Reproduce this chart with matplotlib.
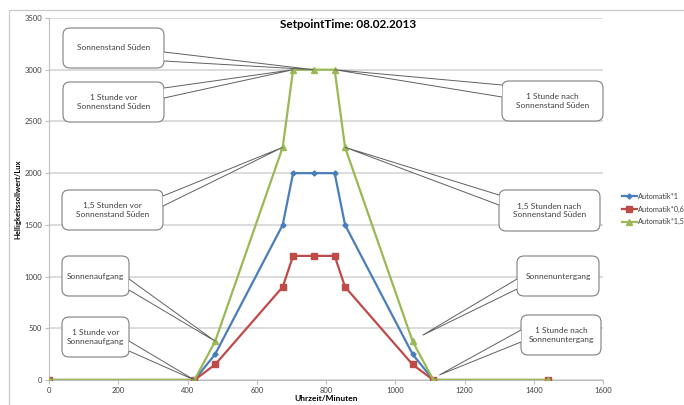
import matplotlib
matplotlib.use("Agg")
import matplotlib.pyplot as plt
from matplotlib.patches import FancyBboxPatch, Polygon, Rectangle
from matplotlib.transforms import IdentityTransform

# Daten: Uhrzeit in Minuten, Helligkeitssollwert in Lux
minuten = [0, 420, 480, 675, 705, 765, 825, 855, 1050, 1110, 1440]
auto_1 = [0, 0, 250, 1500, 2000, 2000, 2000, 1500, 250, 0, 0]
auto_06 = [0, 0, 150, 900, 1200, 1200, 1200, 900, 150, 0, 0]
auto_15 = [0, 0, 375, 2250, 3000, 3000, 3000, 2250, 375, 0, 0]
labels = ['Automatik*1', 'Automatik*0,6', 'Automatik*1,5']

# Callouts: text, index of data point in auto_15
callout_text = ['Sonnenstand Süden', '1 Stunde vor\nSonnenstand Süden', '1 Stunde nach\nSonnenstand Süden',
                '1,5 Stunden vor\nSonnenstand Süden', '1,5 Stunden nach\nSonnenstand Süden',
                'Sonnenaufgang', '1 Stunde vor\nSonnenaufgang', 'Sonnenuntergang',
                '1 Stunde nach\nSonnenuntergang']
callout_idx = [5, 4, 6, 3, 7, 2, 1, 8, 9]

W, H = 684, 405
font = 'Lato'

fig = plt.figure(figsize=(W / 100, H / 100), dpi=100)
ax = fig.add_axes([49 / W, 1 - 380 / H, (603 - 49) / W, (380 - 18) / H])

# outer chart border
fig.add_artist(Rectangle((9 / W, -0.1), 1.2, 1 - 10 / H + 0.1, transform=fig.transFigure,
                         fill=False, edgecolor='#c8c8c8', linewidth=0.9))

ax.plot(minuten, auto_1, color='#4a7ebb', lw=1.6, marker='D', ms=2.6, label=labels[0], zorder=3)
ax.plot(minuten, auto_06, color='#be4b48', lw=1.6, marker='s', ms=4.2, label=labels[1], zorder=3)
ax.plot(minuten, auto_15, color='#98b954', lw=1.6, marker='^', ms=4.0, label=labels[2], zorder=3)

ax.set_xlim(0, 1600)
ax.set_ylim(0, 3500)
ax.set_xticks(range(0, 1601, 200))
ax.set_yticks(range(0, 3501, 500))
ax.yaxis.grid(True, color='#d9d9d9', lw=1.3)
ax.set_axisbelow(True)
for s in ['top', 'right']:
    ax.spines[s].set_visible(False)
ax.spines['left'].set_color('#bfbfbf')
ax.spines['bottom'].set_color('#bfbfbf')
ax.tick_params(axis='both', colors='#bfbfbf', length=3, width=0.8, labelsize=5.5, labelcolor='#404040', pad=2)
for t in ax.get_xticklabels() + ax.get_yticklabels():
    t.set_fontfamily(font)

ax.set_xlabel('Uhrzeit/Minuten', fontsize=6, fontweight='bold', family=font, labelpad=1)
ax.set_ylabel('Helligkeitssollwert/Lux', fontsize=5.5, fontweight='bold', family=font, labelpad=2)
fig.text(348 / W, 1 - 24 / H, 'SetpointTime: 08.02.2013', ha='center', va='center',
         fontsize=8.5, fontweight='bold', family=font)

leg = fig.legend(loc='upper left', bbox_to_anchor=(622 / W, 1 - 193 / H), frameon=False,
                 handlelength=2.0, handletextpad=0.15, labelspacing=0.75,
                 borderpad=0, borderaxespad=0, prop={'family': font, 'size': 5.3})
for t in leg.get_texts():
    t.set_color('#404040')

# callout boxes in image pixels (x0, y0, x1, y1), base of wedge on box edge, tip offset px
boxes = [(63, 28, 164, 68), (63, 82, 164, 122), (502, 81, 603, 121),
         (62, 190, 163, 230), (499, 190, 600, 231),
         (62, 256, 129, 296), (62, 317, 129, 357), (517, 256, 599, 296),
         (521, 315, 601, 355)]
bases = [(164, 52, 61), (164, 88, 98), (502, 85, 97),
         (163, 196, 206), (499, 195, 205),
         (129, 279, 290), (129, 341, 351), (517, 279, 289),
         (521, 330, 342)]
tip_off = [(0, 0), (0, 0), (0, 0), (0, 0), (0, 0), (0, 0), (0, 0), (10, -6), (6, -5)]

fig.canvas.draw()
for txt, i, box, base, off in zip(callout_text, callout_idx, boxes, bases, tip_off):
    x0, y0, x1, y1 = box
    bx, by0, by1 = base
    tx, ty = ax.transData.transform((minuten[i], auto_15[i]))
    tx, ty = tx + off[0], ty - off[1]
    fig.add_artist(FancyBboxPatch((x0, H - y1), x1 - x0, y1 - y0,
                                  boxstyle='round,pad=0,rounding_size=7', transform=IdentityTransform(),
                                  facecolor='white', edgecolor='#7f7f7f', lw=0.8, zorder=5))
    fig.add_artist(Polygon([(bx, H - by0), (tx, ty), (bx, H - by1)], closed=False,
                           transform=IdentityTransform(), facecolor='white', edgecolor='#606060',
                           lw=0.7, zorder=6))
    fig.text((x0 + x1) / 2 / W, 1 - (y0 + y1) / 2 / H, txt, ha='center', va='center',
             fontsize=6, color='#404040', family=font, linespacing=1.2, zorder=7)

fig.savefig('out.png', dpi=100)
